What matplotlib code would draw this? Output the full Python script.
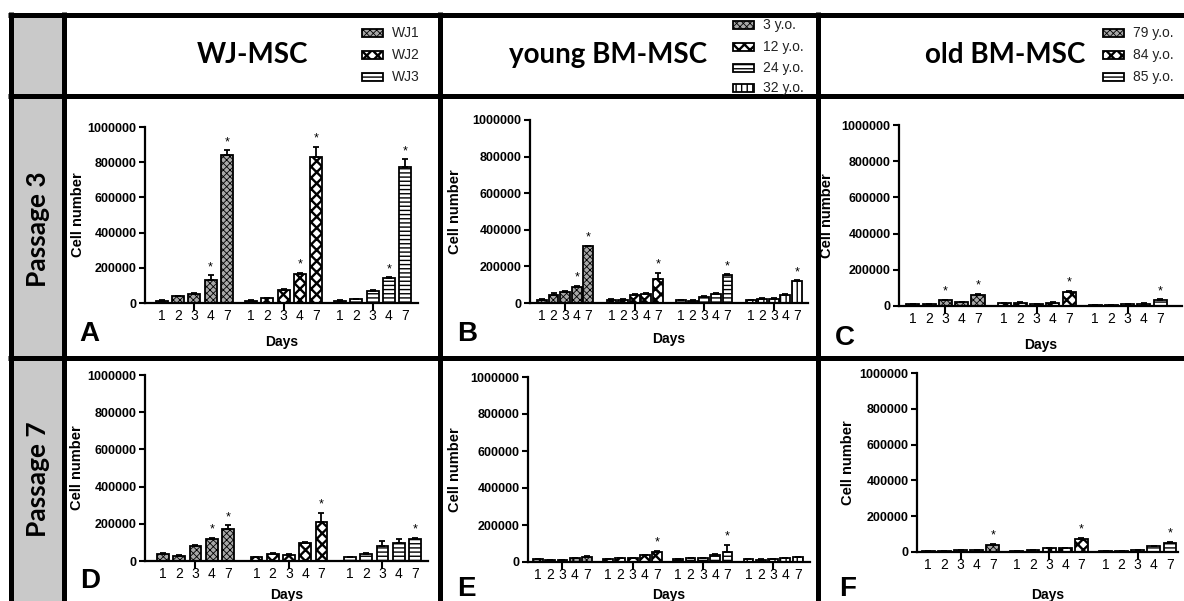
import matplotlib
matplotlib.use('Agg')
import matplotlib.pyplot as plt
from matplotlib.patches import Rectangle
from matplotlib.lines import Line2D
import numpy as np

plt.rcParams['font.family'] = ['Liberation Sans', 'DejaVu Sans']
plt.rcParams['hatch.linewidth'] = 1.0

# ---------------- data ----------------
days = ['1', '2', '3', '4', '7']
wj_labels = ['WJ1', 'WJ2', 'WJ3']
young_labels = ['3 y.o.', '12 y.o.', '24 y.o.', '32 y.o.']
old_labels = ['79 y.o.', '84 y.o.', '85 y.o.']
yticks = [0, 200000, 400000, 600000, 800000, 1000000]

# Panel A: WJ-MSC, passage 3
A_vals = [[13000, 38000, 51000, 132000, 840000],
          [13000, 26000, 75000, 164000, 832000],
          [13000, 20000, 70000, 141000, 774000]]
A_err = [[2000, 4000, 3000, 25000, 28000],
         [1500, 3000, 5000, 8000, 55000],
         [1500, 2000, 4000, 5000, 43000]]
A_star = [[0, 0, 0, 1, 1], [0, 0, 0, 1, 1], [0, 0, 0, 1, 1]]

# Panel B: young BM-MSC, passage 3
B_vals = [[18000, 45000, 58000, 87000, 309000],
          [18000, 18000, 45000, 51000, 131000],
          [15000, 13000, 33000, 51000, 152000],
          [15000, 24000, 24000, 45000, 118000]]
B_err = [[2000, 8000, 5000, 8000, 5000],
         [2000, 2000, 6000, 6000, 33000],
         [1500, 1500, 3000, 5000, 6000],
         [1500, 2000, 2000, 4000, 5000]]
B_star = [[0, 0, 0, 1, 1], [0, 0, 0, 0, 1], [0, 0, 0, 0, 1], [0, 0, 0, 0, 1]]

# Panel C: old BM-MSC, passage 3
C_vals = [[9000, 9000, 31000, 20000, 63000],
          [17000, 18000, 9000, 18000, 77000],
          [5000, 5000, 9000, 13000, 33000]]
C_err = [[1000, 1000, 3000, 2000, 4000],
         [2000, 2000, 1000, 2000, 8000],
         [500, 500, 1000, 1000, 3000]]
C_star = [[0, 0, 1, 0, 1], [0, 0, 0, 0, 1], [0, 0, 0, 0, 1]]

# Panel D: WJ-MSC, passage 7
D_vals = [[38000, 29000, 82000, 120000, 170000],
          [20000, 38000, 34000, 99000, 208000],
          [20000, 38000, 82000, 99000, 120000]]
D_err = [[3000, 3000, 5000, 6000, 23000],
         [2000, 3000, 3000, 5000, 52000],
         [2000, 3000, 27000, 20000, 5000]]
D_star = [[0, 0, 0, 1, 1], [0, 0, 0, 0, 1], [0, 0, 0, 0, 1]]

# Panel E: young BM-MSC, passage 7
E_vals = [[16000, 11000, 11000, 20000, 27000],
          [16000, 20000, 20000, 36000, 54000],
          [16000, 20000, 20000, 39000, 54000],
          [16000, 13000, 16000, 20000, 27000]]
E_err = [[1000, 1000, 1000, 2000, 3000],
         [1000, 2000, 2000, 4000, 6000],
         [1000, 2000, 2000, 3000, 40000],
         [1000, 1000, 1000, 2000, 2000]]
E_star = [[0, 0, 0, 0, 0], [0, 0, 0, 0, 1], [0, 0, 0, 0, 1], [0, 0, 0, 0, 0]]

# Panel F: old BM-MSC, passage 7
F_vals = [[6000, 7000, 11000, 11000, 41000],
          [7000, 11000, 20000, 20000, 74000],
          [7000, 7000, 11000, 31000, 52000]]
F_err = [[500, 500, 1000, 1000, 4000],
         [500, 1000, 2000, 2000, 5000],
         [500, 500, 1000, 3000, 4000]]
F_star = [[0, 0, 0, 0, 1], [0, 0, 0, 0, 1], [0, 0, 0, 0, 1]]

# ---------------- styles ----------------
STY = [dict(face='#a8a8a8', hatch='xxxxx', hlw=0.6),
       dict(face='white', hatch='xxx', hlw=1.7),
       dict(face='white', hatch='----', hlw=1.0),
       dict(face='white', hatch='|||', hlw=1.0)]

W, H = 1184, 601
fig = plt.figure(figsize=(W / 100, H / 100), dpi=100)


def fx(x):
    return x / W


def fy(y):
    return 1 - y / H


# grey label column
fig.patches.append(Rectangle((fx(13), 0), fx(62) - fx(13), fy(17), transform=fig.transFigure,
                             facecolor='#c9c9c9', edgecolor='none', zorder=0))

# grid lines
LW = 3.6
def hline(y, x0, x1):
    fig.add_artist(Line2D([fx(x0), fx(x1)], [fy(y), fy(y)], transform=fig.transFigure,
                          color='black', lw=LW, solid_capstyle='butt', zorder=5))


def vline(x, y0, y1):
    fig.add_artist(Line2D([fx(x), fx(x)], [fy(y0), fy(y1)], transform=fig.transFigure,
                          color='black', lw=LW, solid_capstyle='butt', zorder=5))


hline(14.5, 8, W)
hline(95.5, 8, W)
hline(357.5, 8, W)
vline(10.5, 12, H)
vline(64, 12, H)
vline(440, 12, H)
vline(818, 12, H)

# row / column titles
TF = ['Lato', 'Open Sans', 'DejaVu Sans']
fig.text(fx(38), fy(229), 'Passage 3', rotation=90, ha='center', va='center',
         fontsize=19, fontweight='bold', family=TF)
fig.text(fx(38), fy(479), 'Passage 7', rotation=90, ha='center', va='center',
         fontsize=19, fontweight='bold', family=TF)
fig.text(fx(253), fy(55), 'WJ-MSC', ha='center', va='center', fontsize=20, fontweight='bold', family=TF)
fig.text(fx(608), fy(55), 'young BM-MSC', ha='center', va='center', fontsize=20, fontweight='bold', family=TF)
fig.text(fx(1005), fy(55), 'old BM-MSC', ha='center', va='center', fontsize=20, fontweight='bold', family=TF)


def legend(x0, ys, labels):
    for i, (y, lab) in enumerate(zip(ys, labels)):
        s = STY[i]
        r = Rectangle((fx(x0), fy(y + 4)), 21 / W, 8 / H, transform=fig.transFigure,
                      facecolor=s['face'], edgecolor='black', hatch=s['hatch'], lw=1.3, zorder=6)
        if hasattr(r, 'set_hatch_linewidth'):
            r.set_hatch_linewidth(s['hlw'])
        fig.patches.append(r)
        fig.text(fx(x0 + 30), fy(y), lab, ha='left', va='center', fontsize=10, color='#222222', zorder=7)


legend(362, [33, 55, 77], wj_labels)
legend(733, [25, 47, 68, 88], young_labels)
legend(1103, [33, 55, 77], old_labels)


def panel(box, vals, errs, stars, gap, width, xlim, ylab_dx, xlab_dy, letter, letter_xy):
    left, right, top, bottom = box
    wpx, hpx = right - left, bottom - top
    ax = fig.add_axes([fx(left), fy(bottom), wpx / W, hpx / H])
    ax.xaxis.remove_overlapping_locs = False
    centers = []
    allx = []
    for g in range(len(vals)):
        x = g * (4 + gap) + np.arange(5)
        s = STY[g]
        bars = ax.bar(x, vals[g], width, color=s['face'], edgecolor='black', hatch=s['hatch'],
                      lw=1.3, zorder=2)
        for b in bars:
            if hasattr(b, 'set_hatch_linewidth'):
                b.set_hatch_linewidth(s['hlw'])
        ax.errorbar(x, vals[g], yerr=[np.zeros(5), errs[g]], fmt='none', ecolor='black',
                    elinewidth=1.3, capsize=2.5, capthick=1.3, zorder=3)
        for i in range(5):
            if stars[g][i]:
                ax.annotate('*', (x[i], vals[g][i] + errs[g][i]), xytext=(0, 1.5),
                            textcoords='offset points', ha='center', va='bottom', fontsize=9,
                            annotation_clip=False)
        centers.append(x[2])
        allx.extend(x)
    ax.set_xlim(*xlim)
    ax.set_ylim(0, 1000000)
    ax.set_yticks(yticks, labels=[str(t) for t in yticks])
    ax.set_xticks(centers, labels=[''] * len(centers))
    ax.set_xticks(allx, labels=days * len(vals), minor=True)
    ax.tick_params(axis='x', which='major', length=6, width=1.5, direction='out')
    ax.tick_params(axis='x', which='minor', length=0, pad=4, labelsize=10)
    ax.tick_params(axis='y', length=4, width=1.5, labelsize=9, pad=2)
    for t in ax.get_yticklabels():
        t.set_fontweight('bold')
    for sp in ['top', 'right']:
        ax.spines[sp].set_visible(False)
    for sp in ['left', 'bottom']:
        ax.spines[sp].set_linewidth(1.6)
    ax.patch.set_alpha(0)
    ax.set_ylabel('Cell number', fontsize=10.5, fontweight='bold')
    ax.yaxis.set_label_coords(ylab_dx / wpx, 0.5)
    ax.yaxis.label.set_va('center')
    ax.set_xlabel('Days', fontsize=10, fontweight='bold')
    ax.xaxis.set_label_coords(0.5, -xlab_dy / hpx)
    ax.xaxis.label.set_va('center')
    fig.text(fx(letter_xy[0]), fy(letter_xy[1]), letter, ha='center', va='center',
             fontsize=20, fontweight='bold')
    return ax


panel((145, 418, 127, 303), A_vals, A_err, A_star, 1.5, 0.74, (-1.05, 15.8), -67, 39, 'A', (89, 334))
panel((530, 808, 120, 303), B_vals, B_err, B_star, 2.0, 0.85, (-1.03, 22.95), -75, 36, 'B', (467, 334))
panel((899, 1182, 125, 306), C_vals, C_err, C_star, 1.6, 0.8, (-0.86, 16.55), -72, 39, 'C', (845, 338))
panel((145, 428, 375, 561), D_vals, D_err, D_star, 1.75, 0.72, (-1.1, 16.3), -68, 34, 'D', (90, 581))
panel((528, 810, 377, 562), E_vals, E_err, E_star, 1.7, 0.8, (-0.8, 22.1), -73, 33, 'E', (466, 589))
panel((917, 1178, 373, 552), F_vals, F_err, F_star, 1.5, 0.8, (-0.7, 15.5), -69, 43, 'F', (848, 589))

fig.savefig('out.png', dpi=100, facecolor='white')
